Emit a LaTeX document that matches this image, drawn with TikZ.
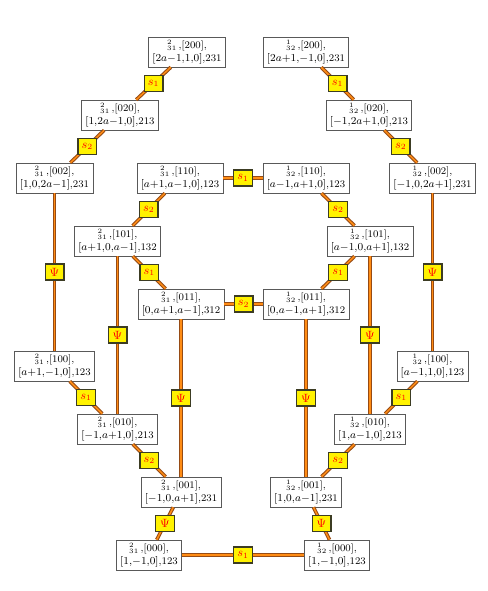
\documentclass[tikz,border=0pt]{standalone}
\usepackage{amsmath}
\usepackage{tikz}
\usetikzlibrary{positioning}

\definecolor{linkbrown}{RGB}{150,75,20}
\definecolor{linkorange}{RGB}{255,140,20}
\definecolor{labframe}{RGB}{60,60,35}

\tikzset{
  state/.style={draw=black!65, fill=white, line width=0.4pt, align=center,
    inner xsep=2.8pt, inner ysep=1pt, minimum height=22.5pt,
    font=\fontsize{7.6}{9.6}\selectfont},
  link/.style={draw=linkbrown, line width=0.8pt, double=linkorange, double distance=1.1pt},
  lab/.style={draw=labframe, fill=yellow, line width=1pt, text=red,
    minimum width=14pt, minimum height=12pt, inner sep=0.5pt, font=\small}
}
% Zustand: Index oben/unten, Orbit, Vektor, Permutation
\newcommand{\sttxt}[5]{${}^{#1}_{#2}$\,,[#3],\\ $\mathcode`\,="013B [#4]$,#5}

\begin{document}
\begin{tikzpicture}[x=0.75pt, y=-0.75pt]
  \useasboundingbox (0,0) rectangle (487,591);

  % linke Seite (2 / 31)
  \node[state] (l200) at (187,52)    {\sttxt{2}{31}{200}{2a{-}1,1,0}{231}};
  \node[state] (l020) at (120,115)   {\sttxt{2}{31}{020}{1,2a{-}1,0}{213}};
  \node[state] (l002) at (54.5,178)  {\sttxt{2}{31}{002}{1,0,2a{-}1}{231}};
  \node[state] (l110) at (180,178)   {\sttxt{2}{31}{110}{a{+}1,a{-}1,0}{123}};
  \node[state] (l101) at (117.5,241) {\sttxt{2}{31}{101}{a{+}1,0,a{-}1}{132}};
  \node[state] (l011) at (181,304)   {\sttxt{2}{31}{011}{0,a{+}1,a{-}1}{312}};
  \node[state] (l100) at (54.5,366)  {\sttxt{2}{31}{100}{a{+}1,{-}1,0}{123}};
  \node[state] (l010) at (117.5,429) {\sttxt{2}{31}{010}{{-}1,a{+}1,0}{213}};
  \node[state] (l001) at (181,492)   {\sttxt{2}{31}{001}{{-}1,0,a{+}1}{231}};
  \node[state] (l000) at (149,555)   {\sttxt{2}{31}{000}{1,{-}1,0}{123}};

  % rechte Seite (1 / 32)
  \node[state] (r200) at (306,52)    {\sttxt{1}{32}{200}{2a{+}1,{-}1,0}{231}};
  \node[state] (r020) at (369,115)   {\sttxt{1}{32}{020}{{-}1,2a{+}1,0}{213}};
  \node[state] (r002) at (432.5,178) {\sttxt{1}{32}{002}{{-}1,0,2a{+}1}{231}};
  \node[state] (r110) at (306,178)   {\sttxt{1}{32}{110}{a{-}1,a{+}1,0}{123}};
  \node[state] (r101) at (370,241)   {\sttxt{1}{32}{101}{a{-}1,0,a{+}1}{132}};
  \node[state] (r011) at (306,304)   {\sttxt{1}{32}{011}{0,a{-}1,a{+}1}{312}};
  \node[state] (r100) at (432.5,366) {\sttxt{1}{32}{100}{a{-}1,1,0}{123}};
  \node[state] (r010) at (370,429)   {\sttxt{1}{32}{010}{1,a{-}1,0}{213}};
  \node[state] (r001) at (306,492)   {\sttxt{1}{32}{001}{1,0,a{-}1}{231}};
  \node[state] (r000) at (337,555)   {\sttxt{1}{32}{000}{1,{-}1,0}{123}};

  % Verbindungen links
  \draw[link] (l200) -- node[lab] {$s_1$} (l020);
  \draw[link] (l020) -- node[lab] {$s_2$} (l002);
  \draw[link] (l002) -- node[lab] {$\Psi$} (l100);
  \draw[link] (l110) -- node[lab] {$s_2$} (l101);
  \draw[link] (l101) -- node[lab] {$s_1$} (l011);
  \draw[link] (l101) -- node[lab] {$\Psi$} (l010);
  \draw[link] (l011) -- node[lab] {$\Psi$} (l001);
  \draw[link] (l100) -- node[lab] {$s_1$} (l010);
  \draw[link] (l010) -- node[lab] {$s_2$} (l001);
  \draw[link] (l001) -- node[lab] {$\Psi$} (l000);

  % Verbindungen rechts
  \draw[link] (r200) -- node[lab] {$s_1$} (r020);
  \draw[link] (r020) -- node[lab] {$s_2$} (r002);
  \draw[link] (r002) -- node[lab] {$\Psi$} (r100);
  \draw[link] (r110) -- node[lab] {$s_2$} (r101);
  \draw[link] (r101) -- node[lab] {$s_1$} (r011);
  \draw[link] (r101) -- node[lab] {$\Psi$} (r010);
  \draw[link] (r011) -- node[lab] {$\Psi$} (r001);
  \draw[link] (r100) -- node[lab] {$s_1$} (r010);
  \draw[link] (r010) -- node[lab] {$s_2$} (r001);
  \draw[link] (r001) -- node[lab] {$\Psi$} (r000);

  % Querverbindungen
  \draw[link] (l110) -- node[lab] {$s_1$} (r110);
  \draw[link] (l011) -- node[lab] {$s_2$} (r011);
  \draw[link] (l000) -- node[lab] {$s_1$} (r000);
\end{tikzpicture}
\end{document}
